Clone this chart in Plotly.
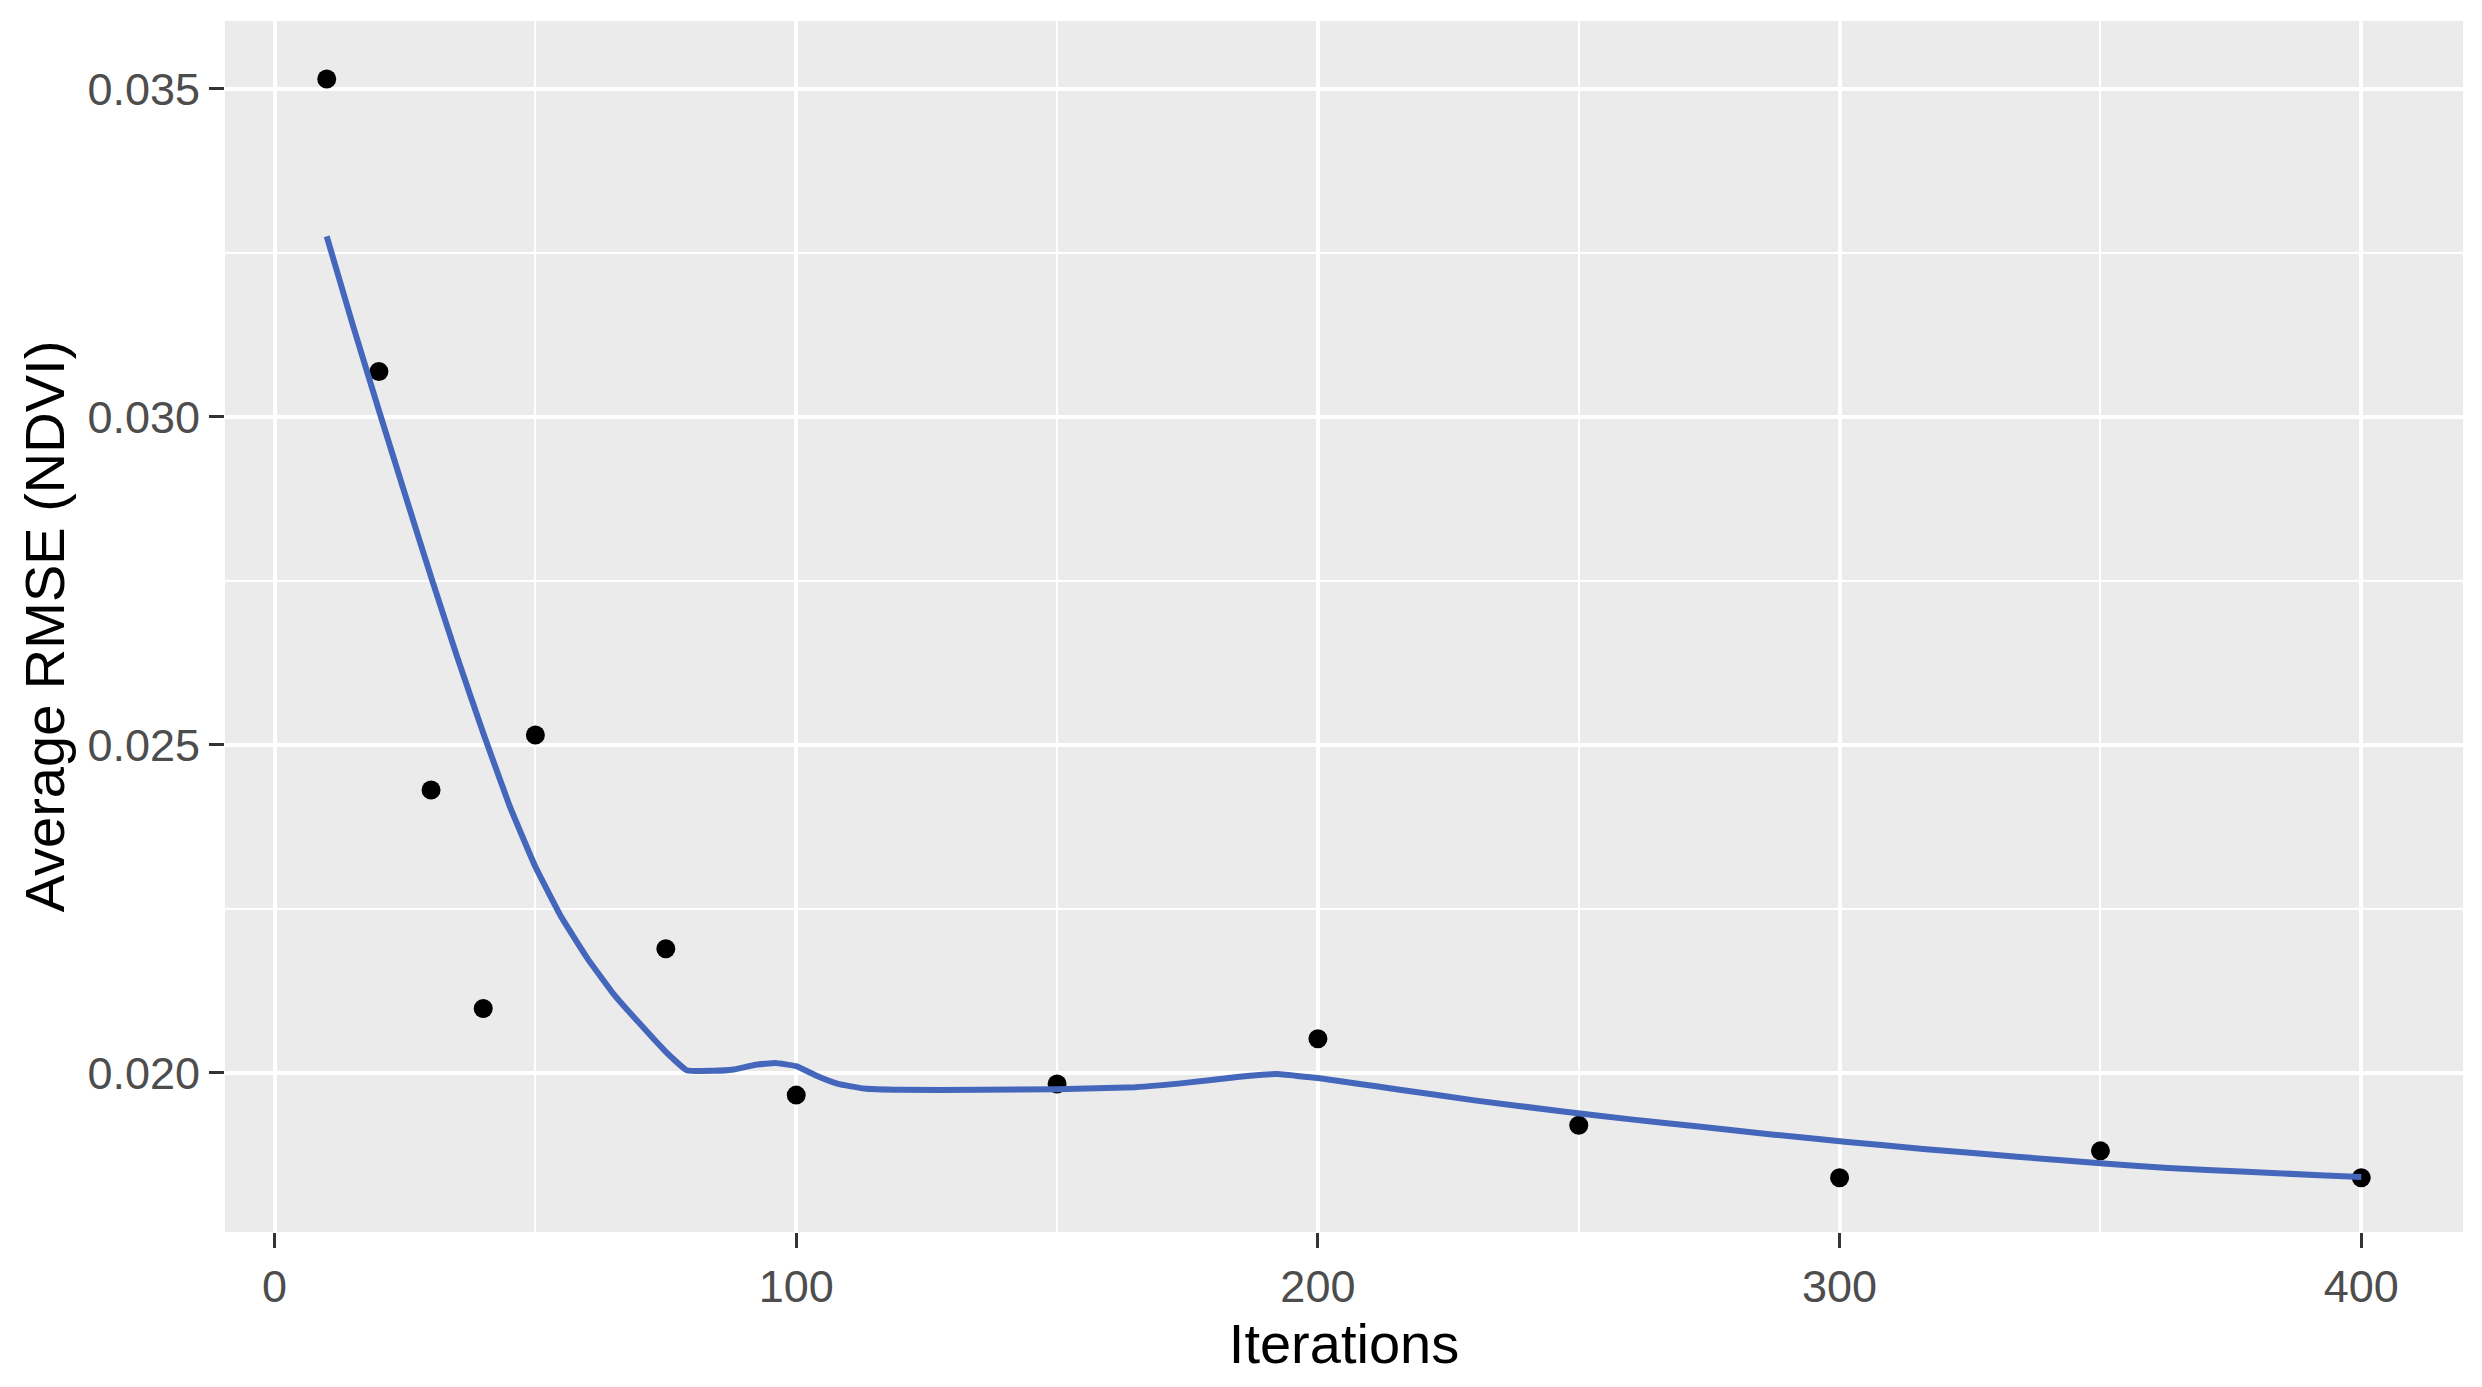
import plotly.graph_objects as go

# observed average RMSE per number of iterations
iterations = [10, 20, 30, 40, 50, 75, 100, 150, 200, 250, 300, 350, 400]
avg_rmse = [0.03515, 0.03069, 0.02431, 0.02098, 0.02515, 0.02189, 0.01966,
            0.01983, 0.02052, 0.01920, 0.01840, 0.01881, 0.01840]

# loess smooth line
smooth_x = [10, 15, 20, 25, 30, 35, 40, 45, 50, 55, 60, 65, 70, 75, 79,
            84, 88, 92, 96, 100, 104, 108, 113, 120, 135, 150, 165, 175,
            185, 192, 200, 208, 215, 230, 247, 260, 273, 287, 301, 316,
            334, 350, 363, 378, 392, 400]
smooth_y = [0.03275, 0.03140, 0.03010, 0.02882, 0.02756, 0.02634, 0.02518,
            0.02408, 0.02314, 0.02237, 0.02174, 0.02120, 0.02075, 0.02032,
            0.02004, 0.02003, 0.02005, 0.02012, 0.02015, 0.02010, 0.01995,
            0.01983, 0.01976, 0.01974, 0.01974, 0.01975, 0.01978, 0.01985,
            0.01994, 0.01998, 0.01992, 0.01983, 0.01975, 0.01958, 0.01941,
            0.01929, 0.01918, 0.01906, 0.01895, 0.01884, 0.01872, 0.01862,
            0.01855, 0.01849, 0.01844, 0.01841]

x_ticks = [0, 100, 200, 300, 400]
x_minor = [50, 150, 250, 350]
y_ticks = [0.020, 0.025, 0.030, 0.035]
y_tick_text = ["0.020", "0.025", "0.030", "0.035"]
y_minor = [0.0225, 0.0275, 0.0325]

fig = go.Figure()

fig.add_trace(go.Scatter(
    x=iterations, y=avg_rmse, mode="markers",
    marker=dict(color="black", size=19),
    showlegend=False
))

# smooth drawn on top of the points, like geom_smooth after geom_point
fig.add_trace(go.Scatter(
    x=smooth_x, y=smooth_y, mode="lines",
    line=dict(color="#4466BB", width=6, shape="spline", smoothing=0.3),
    showlegend=False
))

fig.update_layout(
    width=2482, height=1387,
    margin=dict(l=225, r=19, t=21, b=155),
    paper_bgcolor="white",
    plot_bgcolor="#EBEBEB",
    font=dict(family="Liberation Sans, Arial, sans-serif", color="black"),
    xaxis=dict(
        range=[-9.5, 419.5],
        tickvals=x_ticks,
        ticks="outside", ticklen=15, tickwidth=3, tickcolor="#333333",
        tickfont=dict(size=45, color="#4D4D4D"),
        showgrid=True, gridcolor="white", gridwidth=3.5,
        minor=dict(tickvals=x_minor, showgrid=True, gridcolor="white", gridwidth=2),
        zeroline=False, showline=False,
        title=dict(text="Iterations", font=dict(size=56, color="black"), standoff=6),
    ),
    yaxis=dict(
        range=[0.017573, 0.036034],
        tickvals=y_ticks, ticktext=y_tick_text,
        ticks="outside", ticklen=15, tickwidth=3, tickcolor="#333333",
        tickfont=dict(size=45, color="#4D4D4D"),
        showgrid=True, gridcolor="white", gridwidth=3.5,
        minor=dict(tickvals=y_minor, showgrid=True, gridcolor="white", gridwidth=2),
        zeroline=False, showline=False,
        title=dict(text="Average RMSE (NDVI)", font=dict(size=56, color="black"), standoff=4),
    ),
)

# drop the default body margin so the figure sits at the page corner
fig.write_html("out.html", config={"displayModeBar": False},
               post_script="document.body.style.margin='0';")
